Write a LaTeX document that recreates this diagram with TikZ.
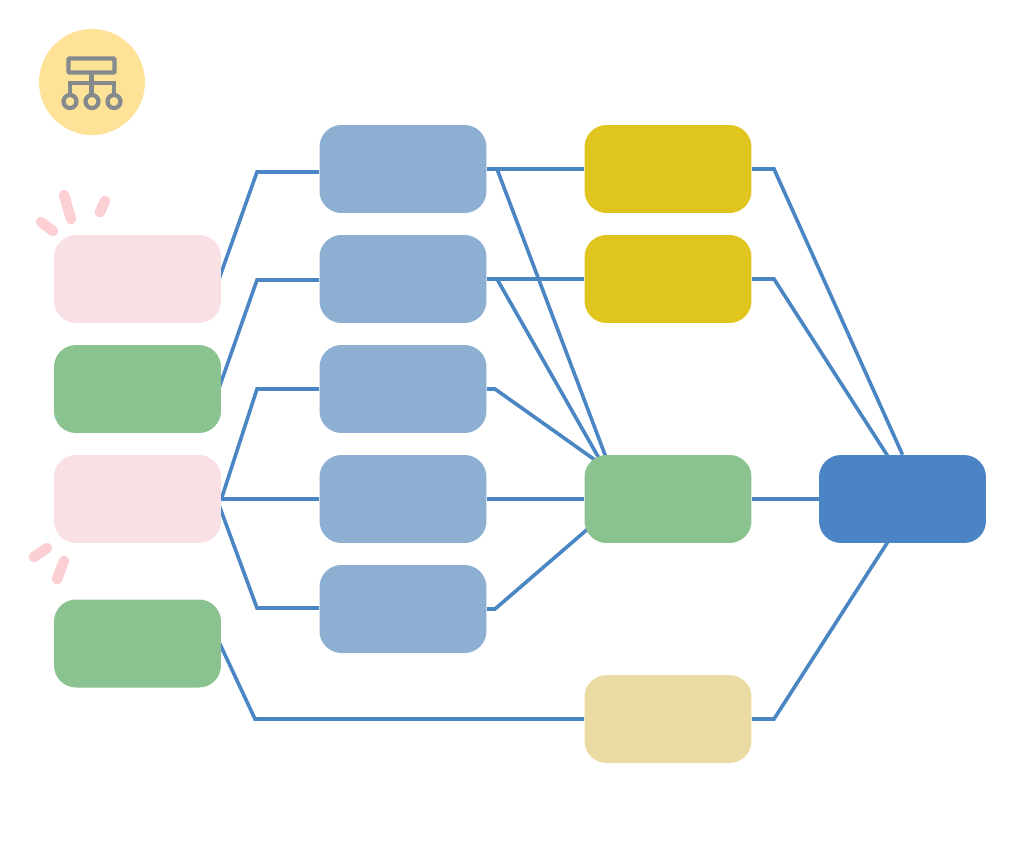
\documentclass[tikz,border=0pt]{standalone}
\usetikzlibrary{backgrounds}
\definecolor{linkblue}{HTML}{4A86C4}
\definecolor{softblue}{HTML}{8DAFD2}
\definecolor{softgreen}{HTML}{8AC38F}
\definecolor{softpink}{HTML}{F9E0E5}
\definecolor{mustard}{HTML}{E0C520}
\definecolor{khaki}{HTML}{EADBA5}
\definecolor{deepblue}{HTML}{4A84C4}
\definecolor{badge}{HTML}{FDE298}
\definecolor{badgeicon}{HTML}{858B8C}
\definecolor{burst}{HTML}{FBCFD4}
\tikzset{box/.style={draw=none, minimum width=3.34cm, minimum height=1.76cm,
  inner sep=0pt, rounded corners=0.44cm},
  link/.style={draw=linkblue, line width=0.072cm},
  spark/.style={draw=burst, line width=0.21cm, line cap=round},
  iconline/.style={draw=badgeicon, line width=0.085cm}}

\begin{document}
\begin{tikzpicture}[x=0.02cm, y=-0.02cm]
  \useasboundingbox (0, 0) rectangle (1024, 845);
  % Left column
  \node[box, fill=softpink]  (in1) at (137.5, 279) {};
  \node[box, fill=softgreen] (in2) at (137.5, 389) {};
  \node[box, fill=softpink]  (in3) at (137.5, 499) {};
  \node[box, fill=softgreen] (in4) at (137.5, 643.5) {};
  % Second column
  \node[box, fill=softblue] (mid1) at (403, 169) {};
  \node[box, fill=softblue] (mid2) at (403, 279) {};
  \node[box, fill=softblue] (mid3) at (403, 389) {};
  \node[box, fill=softblue] (mid4) at (403, 499) {};
  \node[box, fill=softblue] (mid5) at (403, 609) {};
  % Third column
  \node[box, fill=mustard]   (up1) at (668, 169) {};
  \node[box, fill=mustard]   (up2) at (668, 279) {};
  \node[box, fill=softgreen] (hub) at (668, 499) {};
  \node[box, fill=khaki]     (low) at (668, 719) {};
  % Rightmost box
  \node[box, fill=deepblue] (out) at (902.5, 499) {};
  % Points where the lines leave or reach a box off centre
  \coordinate (in1r) at (219, 279);
  \coordinate (in2r) at (219, 388);
  \coordinate (in3a) at (219, 505);
  \coordinate (in4r) at (219, 642);
  \coordinate (mid1a) at (319, 172);
  \coordinate (mid2a) at (319, 280);
  \coordinate (mid5a) at (319, 608);
  \coordinate (hub1) at (607, 460);
  \coordinate (hub2) at (600, 460);
  \coordinate (hub3) at (595, 460);
  \coordinate (hub5) at (590, 527);
  \coordinate (out2) at (889, 458);
  \coordinate (out3) at (889, 540);
  \begin{scope}[on background layer]
    % First stage
    \draw[link] (in1r) -- (257, 172) -- (mid1a);
    \draw[link] (in2r) -- (257, 280) -- (mid2a);
    \draw[link] (in3.east) -- (257, 389) -- (mid3.west);
    \draw[link] (in3.east) -- (mid4.west);
    \draw[link] (in3a) -- (257, 608) -- (mid5a);
    \draw[link] (in4r) -- (255, 719) -- (low.west);
    % Second stage
    \draw[link] (mid1.east) -- (up1.west);
    \draw[link] (mid2.east) -- (up2.west);
    \draw[link] (mid1.east) -- (497, 169) -- (hub1);
    \draw[link] (mid2.east) -- (497, 279) -- (hub2);
    \draw[link] (mid3.east) -- (495, 389) -- (hub3);
    \draw[link] (mid4.east) -- (hub.west);
    \draw[link] (mid5.east) -- (495, 609) -- (hub5);
    % Last stage
    \draw[link] (up1.east) -- (774, 169) -- (out.north);
    \draw[link] (up2.east) -- (774, 279) -- (out2);
    \draw[link] (hub.east) -- (out.west);
    \draw[link] (low.east) -- (774, 719) -- (out3);
  \end{scope}
  % Badge in the top corner
  \fill[badge] (92, 82) circle (53);
  \draw[iconline, rounded corners=0.02cm] (68.5, 58.5) rectangle (114.5, 72.5);
  \draw[iconline] (91.5, 72.5) -- (91.5, 94.5);
  \draw[iconline] (70, 94.5) -- (70, 83) -- (114, 83) -- (114, 94.5);
  \foreach \cx in {70, 92, 114}
    \draw[iconline] (\cx, 101.5) circle (6.5);
  % Sparks next to the pink boxes
  \draw[spark] (64, 195) -- (71, 219);
  \draw[spark] (41, 222) -- (53, 231);
  \draw[spark] (105, 201) -- (100, 212);
  \draw[spark] (47, 548) -- (34, 557);
  \draw[spark] (64, 561) -- (57, 579);
\end{tikzpicture}
\end{document}
